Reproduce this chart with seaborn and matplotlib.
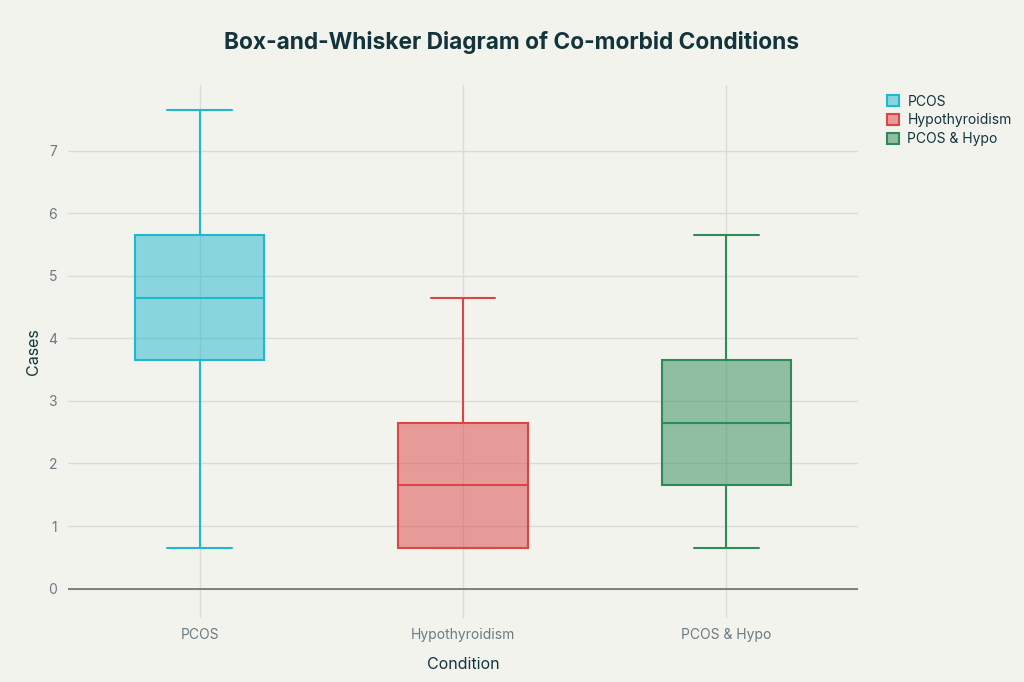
import numpy as np
import pandas as pd
import seaborn as sns
import matplotlib.pyplot as plt
from matplotlib.colors import to_rgb
from matplotlib.patches import Patch

# Case counts per condition
conditions = ["PCOS", "Hypothyroidism", "PCOS & Hypo"]
pcos_cases = [0.65, 3.65, 4.65, 5.65, 7.65]
hypo_cases = [0.65, 0.65, 1.65, 2.65, 4.65]
both_cases = [0.65, 1.65, 2.65, 3.65, 5.65]
colors = ["#1FB8CD", "#DB4545", "#2E8B57"]

df = pd.DataFrame({
    "Condition": ["PCOS"] * len(pcos_cases) + ["Hypothyroidism"] * len(hypo_cases)
                 + ["PCOS & Hypo"] * len(both_cases),
    "Cases": pcos_cases + hypo_cases + both_cases,
})

bg = "#F3F3EE"
sns.set_theme(style="white")
plt.rcParams["font.family"] = ["Inter", "DejaVu Sans"]

fig = plt.figure(figsize=(10.24, 6.82), dpi=100, facecolor=bg)
ax = fig.add_axes([68 / 1024, 64 / 682, 790 / 1024, 533 / 682])
ax.set_facecolor(bg)

sns.boxplot(data=df, x="Condition", y="Cases", hue="Condition", order=conditions,
            hue_order=conditions, palette=colors, saturation=1, width=0.49,
            whis=(0, 100), linewidth=1.5, legend=False, ax=ax, zorder=3)

# per-box colours: translucent fill, solid outlines
for cont, c in zip(ax.containers, colors):
    for b in cont.boxes:
        b.set_facecolor((*to_rgb(c), 0.5))
        b.set_edgecolor(c)
        b.set_linewidth(1.5)
    for ln in list(cont.medians) + list(cont.whiskers) + list(cont.caps):
        ln.set_color(c)
        ln.set_linewidth(1.5)

ax.set_xlim(-0.5, 2.5)
ax.set_ylim(-0.47, 8.05)
ax.set_yticks(range(0, 8))
ax.grid(True, color="#DCDCD6", linewidth=1, zorder=0)
ax.set_axisbelow(True)
ax.axhline(0, color="#6E6E6E", linewidth=1.2, zorder=2)
for s in ax.spines.values():
    s.set_visible(False)
ax.tick_params(axis="both", length=0, colors="#6B7B80", labelsize=10)
ax.tick_params(axis="y", pad=8)
ax.tick_params(axis="x", pad=7)

ax.set_xlabel("Condition", fontsize=11.5, color="#13343B", labelpad=11)
ax.set_ylabel("Cases", fontsize=11.5, color="#13343B", labelpad=5)

fig.text(0.5, 1 - 43 / 682, "Box-and-Whisker Diagram of Co-morbid Conditions",
         ha="center", va="center", fontsize=16.4, fontweight="bold", color="#13343B")

handles = [Patch(facecolor=(*to_rgb(c), 0.5), edgecolor=c, linewidth=1.5, label=n)
           for n, c in zip(conditions, colors)]
fig.legend(handles=handles, loc="upper left", bbox_to_anchor=(874 / 1024, 1 - 82 / 682),
           frameon=False, fontsize=10, labelcolor="#13343B", handlelength=0.9,
           handleheight=0.9, handletextpad=0.6, labelspacing=0.35)

fig.savefig("out.png", dpi=100, facecolor=bg)
